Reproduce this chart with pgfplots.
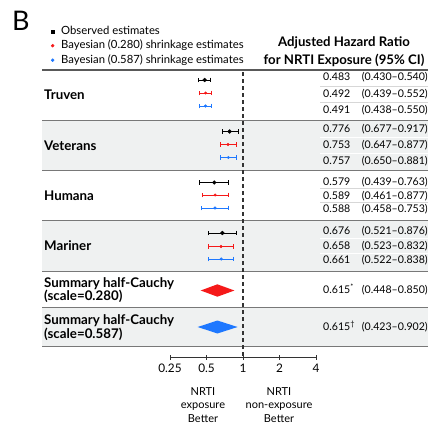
\documentclass[border=0pt]{standalone}
\usepackage{pgfplots}
\pgfplotsset{compat=1.18}
\usepackage{pgfplotstable}
\usepackage{fontspec}
\setmainfont{Lato}
\definecolor{band}{RGB}{239,241,241}
\definecolor{sepc}{RGB}{120,120,120}
\definecolor{subc}{RGB}{215,215,215}
\definecolor{myred}{RGB}{245,25,25}
\definecolor{myblue}{RGB}{30,120,255}

\pgfplotstableread{
y est lo hi
-80 0.483 0.430 0.540
-131.5 0.776 0.677 0.917
-182.5 0.579 0.439 0.763
-233 0.676 0.521 0.876
}\obs
\pgfplotstableread{
y est lo hi
-93 0.492 0.439 0.552
-144.5 0.753 0.647 0.877
-195 0.589 0.461 0.763
-246.5 0.658 0.523 0.832
}\bred
\pgfplotstableread{
y est lo hi
-106 0.491 0.438 0.550
-157.5 0.757 0.650 0.881
-208 0.588 0.458 0.753
-259 0.661 0.522 0.838
}\bblue

\begin{document}
\begin{tikzpicture}[x=1pt,y=1pt]
\useasboundingbox (0,0) rectangle (433,-425);
% bands
\fill[band] (42,-120) rectangle (428,-170);
\fill[band] (42,-220) rectangle (428,-271);
\fill[band] (42,-307) rectangle (428,-346);
\foreach \yy in {86,102} \draw[subc, line width=0.8pt] (320,-\yy) -- (428,-\yy);
\foreach \yy in {137,153} \draw[white, line width=1pt] (320,-\yy) -- (428,-\yy);
\foreach \yy in {188.5,202} \draw[subc, line width=0.8pt] (320,-\yy) -- (428,-\yy);
\foreach \yy in {238.5,253} \draw[white, line width=1pt] (320,-\yy) -- (428,-\yy);
\draw[line width=1.6pt, black!65] (42,-70) -- (428,-70);
\foreach \yy in {120,170,220,271,307,346} \draw[line width=1pt, sepc] (42,-\yy) -- (428,-\yy);

\node[anchor=west, inner sep=0pt] at (12,-21) {\fontsize{27}{27}\selectfont B};
\node[align=center, inner sep=0pt, font=\bfseries\fontsize{13.2}{18}\selectfont] at (344,-52) {Adjusted Hazard Ratio\\for NRTI Exposure (95\% CI)};

\begin{scope}[every node/.style={anchor=west, inner sep=0pt, font=\bfseries\fontsize{13.3}{12.5}\selectfont, align=left}]
\node at (44,-95) {Truven};
\node at (44,-146) {Veterans};
\node at (44,-196) {Humana};
\node at (44,-246) {Mariner};
\node at (44,-290) {Summary half-Cauchy\\(scale=0.280)};
\node at (44,-327.5) {Summary half-Cauchy\\(scale=0.587)};
\end{scope}

\begin{scope}[every node/.style={inner sep=0pt, font=\fontsize{10.6}{12}\selectfont}]
\foreach \yc/\e/\ci in {77/0.483/0.430--0.540, 93.5/0.492/0.439--0.552, 110/0.491/0.438--0.550,
   129/0.776/0.677--0.917, 145/0.753/0.647--0.877, 160.5/0.757/0.650--0.881,
   181.5/0.579/0.439--0.763, 195.5/0.589/0.461--0.877, 209/0.588/0.458--0.753,
   231/0.676/0.521--0.876, 246/0.658/0.523--0.832, 260/0.661/0.522--0.838} {
  \node[anchor=base west] at (323,-\yc-3.7) {\e};
  \node[anchor=base east] at (428,-\yc-3.7) {(\ci)};
}
\node[anchor=base west] at (323,-293.7) {0.615\textsuperscript{*}};
\node[anchor=base east] at (428,-293.7) {(0.448--0.850)};
\node[anchor=base west] at (323,-330.7) {0.615\textsuperscript{\textdagger}};
\node[anchor=base east] at (428,-330.7) {(0.423--0.902)};
\end{scope}

\begin{axis}[
  at={(170pt,-357pt)}, anchor=south west,
  scale only axis, width=146pt, height=287pt,
  xmode=log, log basis x=2,
  xmin=0.25, xmax=4, ymin=-357, ymax=-70,
  axis x line=bottom, axis y line=none,
  axis line style={-, line width=0.9pt, black!80},
  xtick={0.25,0.5,1,2,4}, xticklabels={0.25,0.5,1,2,4},
  tick align=center, major tick length=5pt,
  tick style={line width=0.9pt, black!80},
  xticklabel style={font=\fontsize{11.8}{12}\selectfont, yshift=-1pt},
  /pgf/number format/assume math mode=true,
  clip=false,
  legend style={at={(-0.8253,1.1611)}, anchor=north west, draw=none, fill=none,
     font=\fontsize{11.3}{12}\selectfont, row sep=0pt, inner sep=0pt,
     column sep=4pt,
     nodes={inner sep=1.5pt, text height=9pt, text depth=2.5pt}},
  legend cell align=left,
]
\addlegendimage{legend image code/.code={\path[draw=none,fill=none] (-3pt,-3pt) rectangle (3pt,3pt); \fill[black] (-1.5pt,-1.5pt) rectangle (1.5pt,1.5pt);}}
\addlegendentry{Observed estimates}
\addlegendimage{legend image code/.code={\path[draw=none,fill=none] (-3pt,-3pt) rectangle (3pt,3pt); \fill[myred] (0pt,0pt) circle (1.5pt);}}
\addlegendentry{Bayesian (0.280) shrinkage estimates}
\addlegendimage{legend image code/.code={\path[draw=none,fill=none] (-3pt,-3pt) rectangle (3pt,3pt); \fill[myblue] (0pt,0pt) circle (1.5pt);}}
\addlegendentry{Bayesian (0.587) shrinkage estimates}

\addplot[black!80, dash pattern=on 4pt off 3pt, line width=1.1pt, forget plot] coordinates {(1,-72) (1,-357)};

\addplot[black, only marks, mark=*, mark size=1.9pt, forget plot,
  error bars/.cd, x dir=both, x explicit, error mark=|,
  error bar style={line width=1pt, black},
  error mark options={black, mark size=2.4pt, line width=1pt}]
  table[x=est, y=y, x error plus expr=\thisrow{hi}-\thisrow{est}, x error minus expr=\thisrow{est}-\thisrow{lo}] {\obs};
\addplot[myred, only marks, mark=*, mark size=1.3pt, forget plot,
  error bars/.cd, x dir=both, x explicit, error mark=|,
  error bar style={line width=0.9pt, myred},
  error mark options={myred, mark size=2.4pt, line width=0.9pt}]
  table[x=est, y=y, x error plus expr=\thisrow{hi}-\thisrow{est}, x error minus expr=\thisrow{est}-\thisrow{lo}] {\bred};
\addplot[myblue, only marks, mark=*, mark size=1.3pt, forget plot,
  error bars/.cd, x dir=both, x explicit, error mark=|,
  error bar style={line width=0.9pt, myblue},
  error mark options={myblue, mark size=2.4pt, line width=0.9pt}]
  table[x=est, y=y, x error plus expr=\thisrow{hi}-\thisrow{est}, x error minus expr=\thisrow{est}-\thisrow{lo}] {\bblue};

\addplot[fill=myred, draw=none, forget plot] coordinates {(0.448,-290.5) (0.615,-284.3) (0.850,-290.5) (0.615,-296.7)} -- cycle;
\addplot[fill=myblue, draw=none, forget plot] coordinates {(0.423,-327) (0.615,-320.5) (0.902,-327) (0.615,-333.5)} -- cycle;
\end{axis}

\node[align=center, inner sep=0pt, font=\fontsize{11}{13.5}\selectfont] at (203,-405) {NRTI\\exposure\\Better};
\node[align=center, inner sep=0pt, font=\fontsize{11}{13.5}\selectfont] at (279,-405) {NRTI\\non-exposure\\Better};
\end{tikzpicture}
\end{document}
